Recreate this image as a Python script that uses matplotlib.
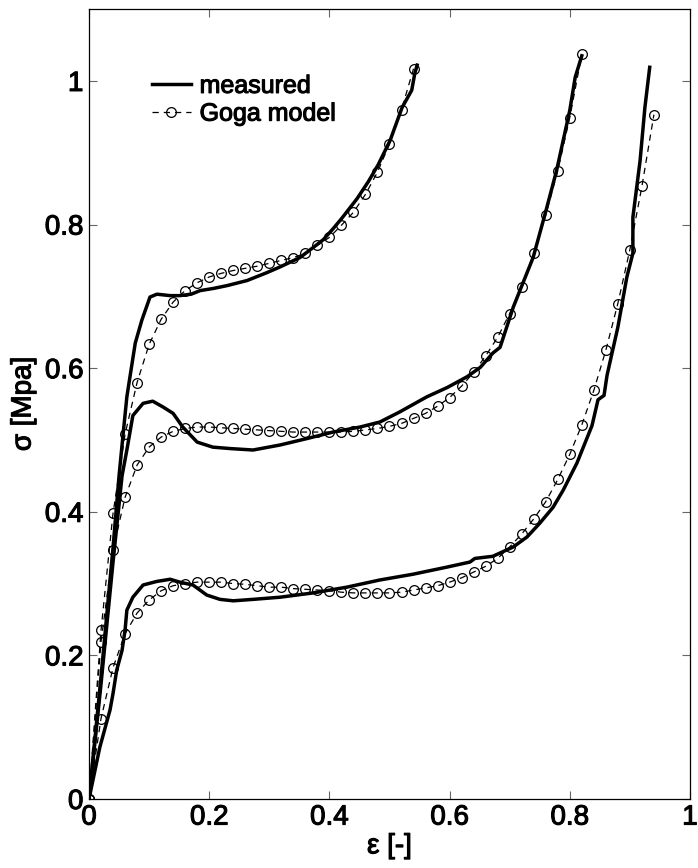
import matplotlib
matplotlib.use("Agg")
import matplotlib.pyplot as plt
import matplotlib.patheffects as pe

# measured stress-strain curves (three specimens)
eps_meas_1 = [0.0, 0.02, 0.04, 0.05, 0.057, 0.063, 0.068, 0.077, 0.088, 0.1015, 0.113, 0.135, 0.151,
              0.17, 0.185, 0.207, 0.23, 0.263, 0.296, 0.318, 0.351, 0.373, 0.39, 0.406, 0.42, 0.446,
              0.465, 0.481, 0.501, 0.521, 0.537, 0.542, 0.546]
sig_meas_1 = [0.0, 0.17, 0.35, 0.45, 0.51, 0.56, 0.587, 0.635, 0.667, 0.699, 0.703, 0.701, 0.701,
              0.703, 0.708, 0.711, 0.715, 0.722, 0.733, 0.741, 0.754, 0.768, 0.779, 0.794, 0.808, 0.836,
              0.860, 0.883, 0.917, 0.963, 0.987, 1.010, 1.022]

eps_meas_2 = [0.0, 0.02, 0.04, 0.055, 0.063, 0.073, 0.09, 0.106, 0.123, 0.14, 0.156, 0.18, 0.206,
              0.235, 0.273, 0.318, 0.363, 0.406, 0.451, 0.484, 0.517, 0.562, 0.596, 0.629, 0.651, 0.672,
              0.684, 0.706, 0.739, 0.759, 0.778, 0.789, 0.800, 0.809, 0.820]
sig_meas_2 = [0.0, 0.16, 0.33, 0.45, 0.486, 0.534, 0.551, 0.554, 0.546, 0.537, 0.518, 0.497, 0.490,
              0.488, 0.486, 0.493, 0.502, 0.511, 0.518, 0.525, 0.539, 0.560, 0.573, 0.588, 0.601, 0.621,
              0.629, 0.685, 0.754, 0.815, 0.875, 0.917, 0.959, 1.005, 1.035]

eps_meas_3 = [0.0, 0.018, 0.035, 0.04, 0.046, 0.055, 0.06, 0.063, 0.073, 0.09, 0.113, 0.135, 0.151,
              0.173, 0.196, 0.218, 0.24, 0.273, 0.318, 0.373, 0.429, 0.484, 0.539, 0.596, 0.634, 0.642,
              0.672, 0.706, 0.729, 0.750, 0.772, 0.789, 0.812, 0.837, 0.847, 0.857, 0.862, 0.880, 0.895,
              0.905, 0.905, 0.917, 0.925, 0.933]
sig_meas_3 = [0.0, 0.072, 0.124, 0.147, 0.179, 0.207, 0.235, 0.263, 0.281, 0.298, 0.303, 0.306, 0.302,
              0.298, 0.284, 0.278, 0.276, 0.278, 0.281, 0.287, 0.295, 0.305, 0.313, 0.323, 0.330, 0.335,
              0.338, 0.351, 0.365, 0.384, 0.406, 0.430, 0.468, 0.520, 0.556, 0.562, 0.590, 0.657, 0.727,
              0.760, 0.810, 0.889, 0.963, 1.019]

# Goga model predictions
eps_model_1 = [0.0, 0.02, 0.04, 0.06, 0.08, 0.10, 0.12, 0.14, 0.16, 0.18, 0.20, 0.22, 0.24, 0.26,
               0.28, 0.30, 0.32, 0.34, 0.36, 0.38, 0.40, 0.42, 0.44, 0.46, 0.48, 0.50, 0.52, 0.54]
sig_model_1 = [0.0, 0.235, 0.398, 0.508, 0.580, 0.633, 0.668, 0.692, 0.708, 0.719, 0.727, 0.732, 0.736,
               0.739, 0.742, 0.746, 0.750, 0.754, 0.760, 0.771, 0.782, 0.799, 0.817, 0.842, 0.873, 0.912,
               0.960, 1.017]

eps_model_2 = [0.0, 0.02, 0.04, 0.06, 0.08, 0.10, 0.12, 0.14, 0.16, 0.18, 0.20, 0.22, 0.24, 0.26,
               0.28, 0.30, 0.32, 0.34, 0.36, 0.38, 0.40, 0.42, 0.44, 0.46, 0.48, 0.50, 0.52, 0.54,
               0.56, 0.58, 0.60, 0.62, 0.64, 0.66, 0.68, 0.70, 0.72, 0.74, 0.76, 0.78, 0.80, 0.82]
sig_model_2 = [0.0, 0.219, 0.347, 0.420, 0.465, 0.490, 0.504, 0.512, 0.516, 0.518, 0.518, 0.517, 0.516,
               0.515, 0.514, 0.513, 0.512, 0.511, 0.511, 0.511, 0.511, 0.511, 0.512, 0.514, 0.516, 0.519,
               0.523, 0.530, 0.537, 0.547, 0.559, 0.575, 0.594, 0.617, 0.643, 0.676, 0.713, 0.760, 0.813,
               0.875, 0.949, 1.037]

eps_model_3 = [0.0, 0.02, 0.04, 0.06, 0.08, 0.10, 0.12, 0.14, 0.16, 0.18, 0.20, 0.22, 0.24, 0.26,
               0.28, 0.30, 0.32, 0.34, 0.36, 0.38, 0.40, 0.42, 0.44, 0.46, 0.48, 0.50, 0.52, 0.54,
               0.56, 0.58, 0.60, 0.62, 0.64, 0.66, 0.68, 0.70, 0.72, 0.74, 0.76, 0.78, 0.80, 0.82,
               0.84, 0.86, 0.88, 0.90, 0.92, 0.94]
sig_model_3 = [0.0, 0.112, 0.183, 0.230, 0.259, 0.277, 0.290, 0.297, 0.300, 0.302, 0.302, 0.302, 0.300,
               0.299, 0.297, 0.295, 0.295, 0.293, 0.292, 0.291, 0.290, 0.288, 0.287, 0.287, 0.287, 0.287,
               0.288, 0.291, 0.294, 0.297, 0.302, 0.308, 0.316, 0.324, 0.335, 0.351, 0.369, 0.390, 0.414,
               0.445, 0.480, 0.521, 0.569, 0.625, 0.690, 0.765, 0.853, 0.953]

xticks = [0, 0.2, 0.4, 0.6, 0.8, 1]
yticks = [0, 0.2, 0.4, 0.6, 0.8, 1]


def fmt(v):
    return "0" if v == 0 else ("1" if v == 1 else f"{v:.1f}")


plt.rcParams["font.family"] = ["Liberation Sans", "DejaVu Sans"]
# slightly heavier glyphs than the regular face
thick = [pe.withStroke(linewidth=0.8, foreground="black")]

fig = plt.figure(figsize=(6.98, 8.68), dpi=100)
ax = fig.add_axes([0.1275, 0.0795, 0.861, 0.910])

meas = [(eps_meas_1, sig_meas_1), (eps_meas_2, sig_meas_2), (eps_meas_3, sig_meas_3)]
model = [(eps_model_1, sig_model_1), (eps_model_2, sig_model_2), (eps_model_3, sig_model_3)]

for i, (x, y) in enumerate(meas):
    ax.plot(x, y, color="black", lw=2.5, solid_joinstyle="round",
            label="measured" if i == 0 else None, zorder=3)
for i, (x, y) in enumerate(model):
    ax.plot(x, y, color="black", lw=0.9, ls=(0, (5, 4)), marker="o", ms=7, mfc="none",
            mec="black", mew=0.9, label="Goga model" if i == 0 else None, zorder=2)

ax.set_xlim(0, 1)
ax.set_ylim(0, 1.1)
ax.set_xticks(xticks)
ax.set_yticks(yticks)
ax.set_xticklabels([fmt(v) for v in xticks])
ax.set_yticklabels([fmt(v) for v in yticks])
ax.tick_params(direction="in", length=6, width=0.8, color="0.4", labelsize=20, pad=4,
               top=True, right=True)
for lbl in ax.get_xticklabels() + ax.get_yticklabels():
    lbl.set_path_effects(thick)
for s in ax.spines.values():
    s.set_linewidth(0.9)

ax.set_xlabel("ε [-]", fontsize=20, labelpad=2, path_effects=thick)
ax.set_ylabel("σ [Mpa]", fontsize=20, labelpad=6, path_effects=thick)

leg = ax.legend(loc="upper left", bbox_to_anchor=(0.105, 0.918), frameon=False, fontsize=18,
                handlelength=1.55, handletextpad=0.35, labelspacing=0.15, borderpad=0,
                borderaxespad=0)
for t in leg.get_texts():
    t.set_path_effects(thick)

plt.savefig("out.png", dpi=100)
